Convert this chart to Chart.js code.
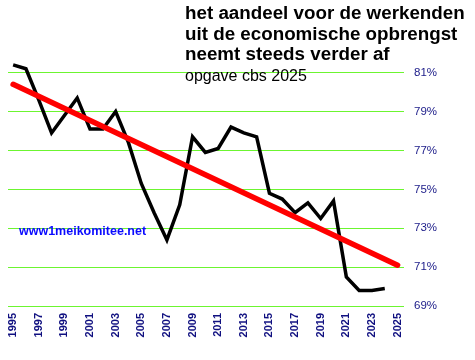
<!DOCTYPE html>
<html>
<head>
<meta charset="UTF-8">
<title>aandeel werkenden</title>
<script src="https://cdn.jsdelivr.net/npm/chart.js"></script>
<style>
    body { margin: 0; background: #fff; }
    #box { position: relative; width: 475px; height: 360px; }
    #title {
        position: absolute; left: 185px; top: 3px;
        font-family: "Liberation Sans", Arial, sans-serif;
        font-weight: bold; font-size: 18.8px; line-height: 20.7px; color: #000;
        white-space: nowrap;
    }
    #sub {
        position: absolute; left: 185px; top: 67px;
        font-family: "Liberation Sans", Arial, sans-serif;
        font-size: 16px; color: #000; white-space: nowrap;
    }
    #site {
        position: absolute; left: 19px; top: 224px;
        font-family: "Liberation Sans", Arial, sans-serif;
        font-weight: bold; font-size: 12.5px; color: #0a0aff; white-space: nowrap;
    }
</style>
</head>
<body>
<div id="box">
    <canvas id="myChart" width="475" height="360"></canvas>
    <div id="title">het aandeel voor de werkenden<br>uit de economische opbrengst<br>neemt steeds verder af</div>
    <div id="sub">opgave cbs 2025</div>
    <div id="site">www1meikomitee.net</div>
</div>

<script>
    // data
    const years = [1995, 1996, 1997, 1998, 1999, 2000, 2001, 2002, 2003, 2004,
                   2005, 2006, 2007, 2008, 2009, 2010, 2011, 2012, 2013, 2014,
                   2015, 2016, 2017, 2018, 2019, 2020, 2021, 2022, 2023, 2024];
    const share = [81.4, 81.2, 79.6, 77.9, 78.8, 79.7, 78.1, 78.1, 79.0, 77.4,
                   75.3, 73.8, 72.4, 74.2, 77.7, 76.9, 77.1, 78.2, 77.9, 77.7,
                   74.8, 74.5, 73.8, 74.3, 73.5, 74.4, 70.5, 69.8, 69.8, 69.9];
    const trendYears = [1995, 2025];
    const trendValues = [80.4, 71.1];
    const xTicks = [1995, 1997, 1999, 2001, 2003, 2005, 2007, 2009, 2011, 2013, 2015, 2017, 2019, 2021, 2023, 2025];
    const yTicks = [69, 71, 73, 75, 77, 79, 81];

    const chartCanvas = document.getElementById('myChart');

    new Chart(chartCanvas, {
        type: 'line',
        data: {
            datasets: [
                {
                    label: 'trend',
                    data: trendYears.map((y, i) => ({ x: y, y: trendValues[i] })),
                    borderColor: '#ff0000',
                    borderWidth: 5.5,
                    pointRadius: 0,
                    borderCapStyle: 'round',
                    order: 0
                }, {
                    label: 'aandeel',
                    data: years.map((y, i) => ({ x: y, y: share[i] })),
                    borderColor: '#000000',
                    borderWidth: 3.5,
                    pointRadius: 0,
                    tension: 0,
                    order: 1
                }
            ]
        },
        options: {
            responsive: false,
            animation: false,
            layout: { padding: { left: 8, top: 61, right: 0, bottom: 0 } },
            scales: {
                x: {
                    type: 'linear',
                    min: 1994.6,
                    max: 2025.5,
                    afterBuildTicks: scale => { scale.ticks = xTicks.map(v => ({ value: v })); },
                    afterFit: scale => { scale.height = 54; },
                    grid: { display: false, drawTicks: false },
                    border: { display: false },
                    ticks: {
                        autoSkip: false,
                        minRotation: 90,
                        maxRotation: 90,
                        padding: 7,
                        color: '#101080',
                        font: { family: 'Liberation Sans', size: 11, weight: 'bold' },
                        callback: v => String(v)
                    }
                },
                y: {
                    position: 'right',
                    min: 69,
                    max: 81.6,
                    afterBuildTicks: scale => { scale.ticks = yTicks.map(v => ({ value: v })); },
                    afterFit: scale => { scale.width = 71; },
                    grid: { color: '#6cf530', lineWidth: 1, drawTicks: false },
                    border: { display: false },
                    ticks: {
                        padding: 10,
                        color: '#1a1a88',
                        font: { family: 'Liberation Sans', size: 11.5 },
                        callback: v => v + '%'
                    }
                }
            },
            plugins: {
                legend: { display: false },
                tooltip: { enabled: false }
            }
        }
    });
</script>
</body>
</html>
